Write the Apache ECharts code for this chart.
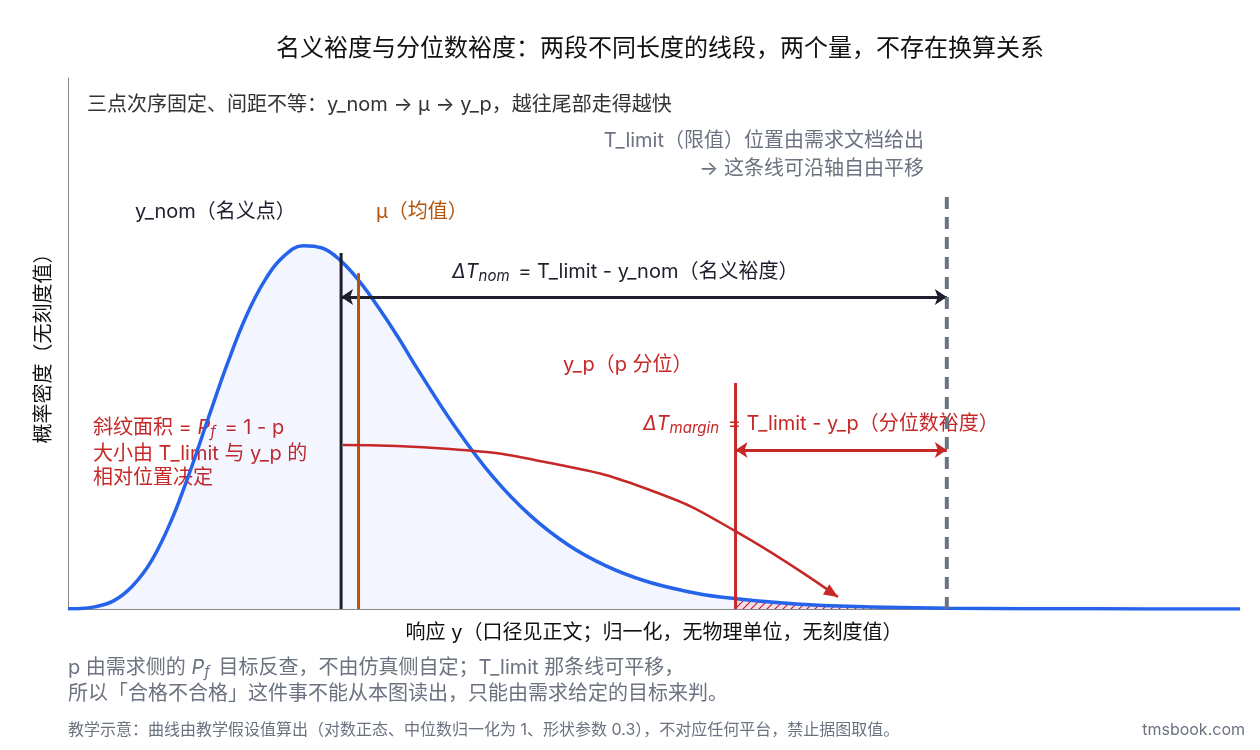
<!DOCTYPE html>
<html><head><meta charset="utf-8">
<script src="https://cdn.jsdelivr.net/npm/echarts@6/dist/echarts.min.js"></script>
<style>html,body{margin:0;padding:0;background:#fff}#c{width:1260px;height:750px}</style>
</head><body><div id="c"></div>
<script>
// density curve (x in normalized response, y in density)
const curveX = [0.28,0.3,0.35,0.4,0.45,0.5,0.55,0.6,0.65,0.7,0.75,0.8,0.85,0.9,0.95,1.0,1.05,1.1,1.15,1.2,1.3,1.4,1.5,1.6,1.7,1.8,1.9,2.0,2.2,2.4,2.6,2.8,3.0,3.37];
const curveY = [0.0007,0.0014,0.008,0.031,0.088,0.184,0.33,0.519,0.73,0.937,1.12,1.259,1.35,1.389,1.38,1.330,1.25,1.150,1.04,0.921,0.698,0.506,0.356,0.244,0.164,0.108,0.071,0.046,0.019,0.0079,0.0032,0.0013,0.0005,0.0001];
const tailX = [2.04,2.2,2.4,2.597];
const tailY = [0.042,0.019,0.0079,0.0034];
const yNom = 1.0, mu = 1.046, yP = 2.04, tLimit = 2.597;
const lineTops = {nom:1.361, mu:1.284, yp:0.864, tl:1.583};
const arrowNomY = 1.193, arrowMarginY = 0.608;
const bendX = [1.005,1.287,1.551,1.814,2.044,2.31];
const bendY = [0.627,0.612,0.558,0.455,0.294,0.046];

const font = 'Inter,"Noto Sans CJK SC",sans-serif';
const blue='#2563eb', red='#c62828', dark='#1e1e2e', orange='#b45309', gray='#6b7280';
const chart = echarts.init(document.getElementById('c'));

const pc = document.createElement('canvas'); pc.width=8; pc.height=8;
const g = pc.getContext('2d'); g.fillStyle='rgba(255,230,230,1)'; g.fillRect(0,0,8,8);
g.strokeStyle=red; g.lineWidth=1.2; g.beginPath(); g.moveTo(0,8); g.lineTo(8,0); g.moveTo(-2,2);g.lineTo(2,-2);g.moveTo(6,10);g.lineTo(10,6); g.stroke();

const zip=(a,b)=>a.map((v,i)=>[v,b[i]]);
const vline=(x,top,color,w,type)=>({type:'line',data:[[x,0],[x,top]],symbol:'none',lineStyle:{color,width:w,type:type||'solid'},z:5,silent:true});
const arrowLine=(y,x1,x2,color)=>({type:'line',data:[],symbol:'none',markLine:{silent:true,symbol:['arrow','arrow'],symbolSize:12,lineStyle:{color,width:3,type:'solid'},label:{show:false},data:[[{coord:[x1,y]},{coord:[x2,y]}]]},z:6});

chart.setOption({
 animation:false,
 textStyle:{fontFamily:font},
 title:{text:'名义裕度与分位数裕度：两段不同长度的线段，两个量，不存在换算关系',left:655,textAlign:'center',top:32,textStyle:{fontSize:24,fontWeight:'normal',color:'#111',fontFamily:font}},
 grid:{left:68,right:20,top:78,bottom:141},
 xAxis:{type:'value',min:0.28,max:3.37,axisLine:{lineStyle:{color:'#888'}},axisTick:{show:false},axisLabel:{show:false},splitLine:{show:false},
   name:'响应 y（口径见正文；归一化，无物理单位，无刻度值）',nameLocation:'middle',nameGap:14,nameTextStyle:{fontSize:20,color:'#111',fontFamily:font}},
 yAxis:{type:'value',min:0,max:2.03,axisLine:{show:true,lineStyle:{color:'#888'}},axisTick:{show:false},axisLabel:{show:false},splitLine:{show:false},
   name:'概率密度（无刻度值）',nameLocation:'middle',nameGap:14,nameTextStyle:{fontSize:20,color:'#111',fontFamily:font}},
 series:[
  {type:'line',data:zip(curveX,curveY),smooth:0.4,symbol:'none',lineStyle:{color:blue,width:3.5},areaStyle:{color:'rgba(37,99,235,0.08)'},z:4},
  {type:'line',data:zip(tailX,tailY),smooth:0.4,symbol:'none',lineStyle:{width:0},areaStyle:{color:{image:pc,repeat:'repeat'},opacity:1},z:3},
  vline(yNom,lineTops.nom,dark,3),
  vline(mu,lineTops.mu,orange,3),
  vline(yP,lineTops.yp,red,3),
  vline(tLimit,lineTops.tl,gray,4,[12,8]),
  arrowLine(arrowNomY,yNom,tLimit,dark),
  arrowLine(arrowMarginY,yP,tLimit,red),
  {type:'line',data:zip(bendX,bendY),smooth:0.5,symbol:'none',lineStyle:{color:red,width:2.5},z:6,silent:true}
 ]
});
const p = (x,y)=>chart.convertToPixel({gridIndex:0},[x,y]);
const a1=p(bendX[4],bendY[4]), a2=p(bendX[5],bendY[5]);
const ang=Math.atan2(a2[1]-a1[1],a2[0]-a1[0]);
const F='20px '+font;
const txt=(x,y,t,fill)=>({type:'text',left:x,top:y,style:{text:t,fill:fill||'#222',font:F}});
const rich={i:{fontStyle:'italic',fontSize:20,fontFamily:font},s:{fontSize:15,fontStyle:'italic',fontFamily:font,padding:[9,3,0,0]}};
const rt=(x,y,t,fill)=>({type:'text',x,y,style:{text:t,fill,font:F,rich}});
chart.setOption({graphic:[
 txt(87,95,'三点次序固定、间距不等：y_nom → μ → y_p，越往尾部走得越快','#333'),
 {type:'text',right:336,top:131,style:{text:'T_limit（限值）位置由需求文档给出',font:F,fill:gray}},
 {type:'text',right:336,top:159,style:{text:'→ 这条线可沿轴自由平移',font:F,fill:gray}},
 txt(135,202,'y_nom（名义点）',dark),
 txt(376,202,'μ（均值）',orange),
 rt(452,260,'{i|ΔT}{s|nom} = T_limit - y_nom（名义裕度）',dark),
 txt(563,355,'y_p（p 分位）',red),
 rt(643,412,'{i|ΔT}{s|margin} = T_limit - y_p（分位数裕度）',red),
 rt(93,416,'斜纹面积 = {i|P}{s|f} = 1 - p',red),
 txt(93,444,'大小由 T_limit 与 y_p 的',red),
 txt(93,468,'相对位置决定',red),
 {type:'polygon',shape:{points:[[0,0],[-14,-6],[-14,6]]},x:a2[0],y:a2[1],rotation:-ang,style:{fill:red},z:10},
 rt(68,656,'p 由需求侧的 {i|P}{s|f} 目标反查，不由仿真侧自定；T_limit 那条线可平移，',gray),
 txt(68,684,'所以「合格不合格」这件事不能从本图读出，只能由需求给定的目标来判。',gray),
 {type:'text',left:68,top:722,style:{text:'教学示意：曲线由教学假设值算出（对数正态、中位数归一化为 1、形状参数 0.3），不对应任何平台，禁止据图取值。',font:'16px '+font,fill:gray}},
 {type:'text',right:15,top:722,style:{text:'tmsbook.com',font:'16px '+font,fill:gray}}
]});
</script></body></html>
